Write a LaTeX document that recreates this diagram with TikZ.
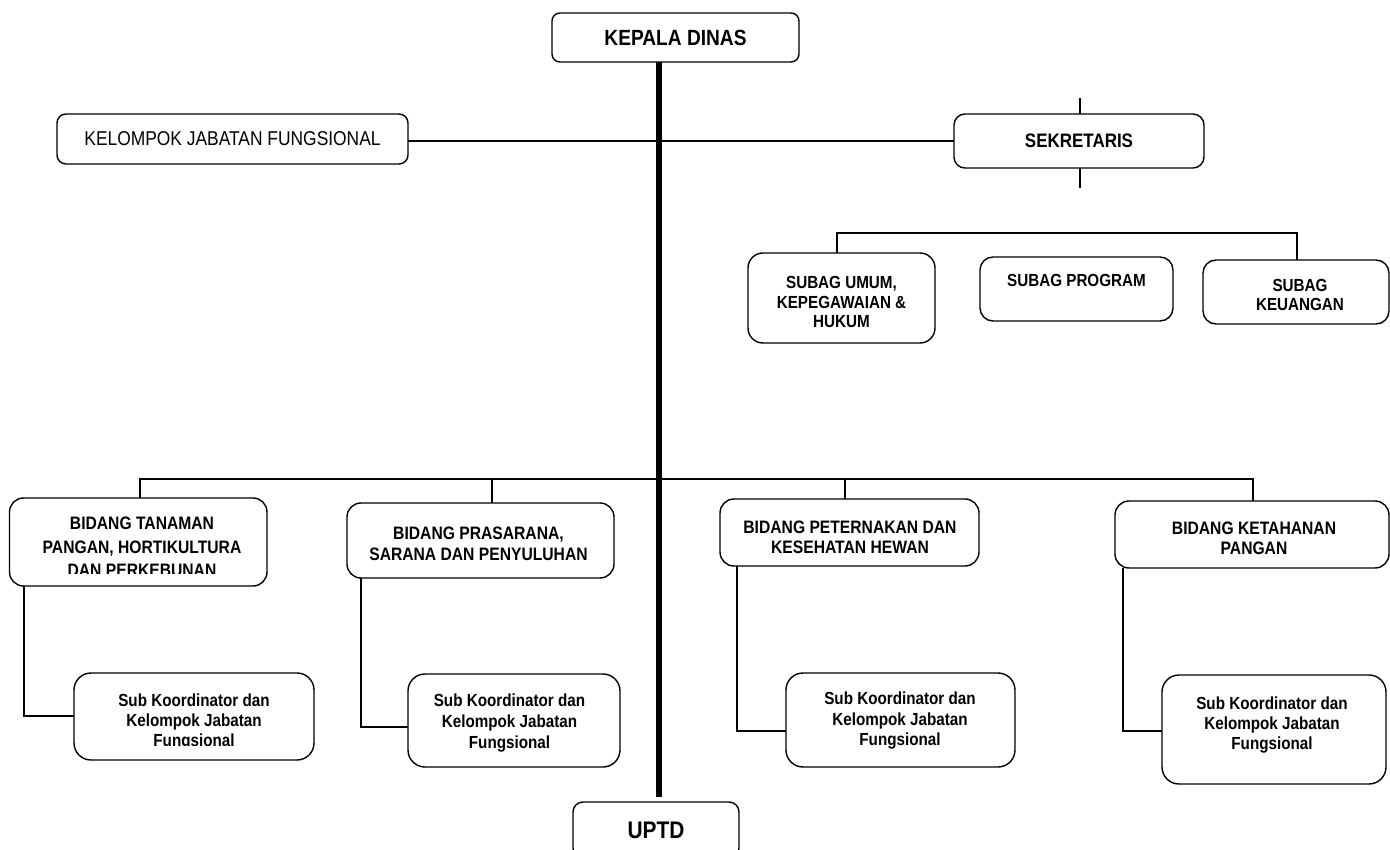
\documentclass[tikz,border=0pt]{standalone}
\usepackage{fontspec}
\setmainfont{Liberation Sans}[FakeStretch=0.87]
\newcommand\myfont[3]{\fontsize{#1}{#2}\selectfont#3}
\begin{document}
\begin{tikzpicture}[x=1pt,y=-1pt,
  box/.style={draw, line width=1.4pt, rounded corners=#1, inner sep=0pt, outer sep=0pt},
  box/.default=12pt,
  ln/.style={line width=1.3pt},
  spinel/.style={line width=5.5pt},
  lbl/.style={inner sep=0pt, outer sep=0pt, align=center, anchor=north}]
\clip (0,0) rectangle (1390,850);
\fill[white] (0,0) rectangle (1390,850);

% top level
\node[box=8pt, minimum width=247pt, minimum height=49pt, font=\myfont{22}{26}{\bfseries}] (kd) at (675.5,37.5) {KEPALA DINAS};
\node[box=9pt, minimum width=351pt, minimum height=50pt, font=\myfont{20}{24}{}] (kjf) at (232.5,139) {KELOMPOK JABATAN FUNGSIONAL};
\node[box=11pt, minimum width=250pt, minimum height=54pt, font=\myfont{19.5}{23}{\bfseries}] (sek) at (1079,141) {SEKRETARIS};
\node[box=10pt, minimum width=166pt, minimum height=56pt, font=\myfont{24}{28}{\bfseries}] (uptd) at (656,830) {UPTD};

% subbagian
\node[box=15pt, minimum width=187pt, minimum height=90pt] (su) at (841.5,298) {};
\node[lbl, font=\myfont{17.5}{19.5}{\bfseries}] (tsu) at (841.5,276.5) {SUBAG UMUM,\\KEPEGAWAIAN \&\\HUKUM};
\node[box=13pt, minimum width=193pt, minimum height=64pt] (sp) at (1076.5,289) {};
\node[lbl, font=\myfont{17.5}{19.5}{\bfseries}] (tsp) at (1076.5,274.5) {SUBAG PROGRAM};
\node[box=13pt, minimum width=186pt, minimum height=64pt] (sk) at (1296,292) {};
\node[lbl, font=\myfont{17.5}{19}{\bfseries}] (tsk) at (1300,279.5) {SUBAG\\KEUANGAN};

% bidang
\node[box=14pt, minimum width=257.5pt, minimum height=88pt] (b1) at (138.25,542) {};
\begin{scope}
  \clip (9.5,498) rectangle (267,573);
  \node[lbl, font=\myfont{18}{23.5}{\bfseries}] (tb1) at (142,517) {BIDANG TANAMAN\\PANGAN, HORTIKULTURA\\DAN PERKEBUNAN};
\end{scope}
\node[box=14pt, minimum width=267pt, minimum height=75pt] (b2) at (480.5,540.5) {};
\node[lbl, font=\myfont{18}{20.5}{\bfseries}] (tb2) at (478.5,527) {BIDANG PRASARANA,\\SARANA DAN PENYULUHAN};
\node[box=14pt, minimum width=259pt, minimum height=67pt] (b3) at (849.5,532.5) {};
\node[lbl, font=\myfont{18}{20}{\bfseries}] (tb3) at (850,521) {BIDANG PETERNAKAN DAN\\KESEHATAN HEWAN};
\node[box=14pt, minimum width=274pt, minimum height=67pt] (b4) at (1252,534.5) {};
\node[lbl, font=\myfont{18}{19.5}{\bfseries}] (tb4) at (1254,522) {BIDANG KETAHANAN\\PANGAN};

% sub koordinator
\node[box=17pt, minimum width=240pt, minimum height=87pt] (s1) at (194,716.5) {};
\begin{scope}
  \clip (74,673) rectangle (314,745);
  \node[lbl, font=\myfont{17.5}{20}{\bfseries}] (ts1) at (194,694) {Sub Koordinator dan\\Kelompok Jabatan\\Fungsional};
\end{scope}
\node[box=17pt, minimum width=212pt, minimum height=93pt] (s2) at (514,720.5) {};
\node[lbl, font=\myfont{17.5}{21}{\bfseries}] (ts2) at (509.5,694) {Sub Koordinator dan\\Kelompok Jabatan\\Fungsional};
\node[box=17pt, minimum width=229pt, minimum height=94pt] (s3) at (900.5,720) {};
\node[lbl, font=\myfont{17.5}{20.5}{\bfseries}] (ts3) at (900,692) {Sub Koordinator dan\\Kelompok Jabatan\\Fungsional};
\node[box=17pt, minimum width=224pt, minimum height=109pt] (s4) at (1274,729.5) {};
\node[lbl, font=\myfont{17.5}{20}{\bfseries}] (ts4) at (1272,697) {Sub Koordinator dan\\Kelompok Jabatan\\Fungsional};

% helper coordinates
\coordinate (spine) at (659,0);
\coordinate (sekTop) at (1080,98);
\coordinate (sekBot) at (1080,188);
\coordinate (suL) at (837,233);
\coordinate (suR) at (1297,233);
\coordinate (bA) at (140,479);
\coordinate (bB) at (1253,479);
\coordinate (bC) at (492,479);
\coordinate (bD) at (845,479);
\coordinate (l1) at (24,716);
\coordinate (l2) at (361,727);
\coordinate (l3) at (737,731);
\coordinate (l4) at (1123,731);

% connectors
\draw[ln] (kjf.east |- sek.west) -- (sek.west);
\draw[ln] (sekTop) -- (sekTop |- sek.north);
\draw[ln] (sekBot |- sek.south) -- (sekBot);
\draw[ln] (suL |- su.north) -- (suL) -- (suR) -- (suR |- sk.north);
\draw[ln] (bA |- b1.north) -- (bA) -- (bB) -- (bB |- b4.north);
\draw[ln] (bC) -- (bC |- b2.north);
\draw[ln] (bD) -- (bD |- b3.north);
\draw[ln] (l1 |- b1.south) -- (l1) -- (l1 -| s1.west);
\draw[ln] (l2 |- b2.south) -- (l2) -- (l2 -| s2.west);
\draw[ln] (l3 |- b3.south) -- (l3) -- (l3 -| s3.west);
\draw[ln] (l4 |- b4.south) -- (l4) -- (l4 -| s4.west);
\draw[spinel, shorten >=5pt] (spine |- kd.south) -- (spine |- uptd.north);
\end{tikzpicture}
\end{document}
